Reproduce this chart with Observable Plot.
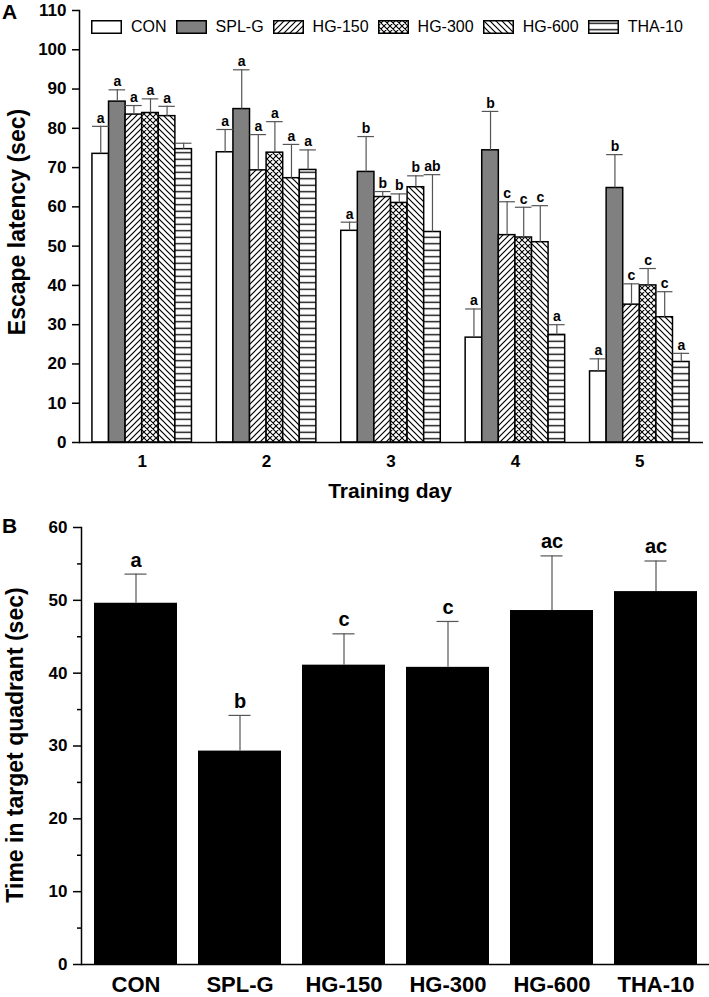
<!DOCTYPE html>
<html>
<head>
<meta charset="utf-8">
<script src="https://cdn.jsdelivr.net/npm/d3@7"></script>
<script src="https://cdn.jsdelivr.net/npm/@observablehq/plot@0.6"></script>
<style>
  body { margin: 0; background: #fff; }
  #wrap { position: relative; width: 709px; height: 997px; overflow: hidden; }
  #panelA { position: absolute; left: 0; top: 0; }
  #panelB { position: absolute; left: 0; top: 505px; }
  .plabel { position: absolute; font: bold 21px "Liberation Sans", Arial, sans-serif; color: #000; }
  .ytitle { position: absolute; font: bold 23px "Liberation Sans", Arial, sans-serif; color: #000;
            white-space: nowrap; transform: translate(-50%, -50%) rotate(-90deg); }
  .xtitle { position: absolute; font: bold 21px "Liberation Sans Narrow", "Liberation Sans", Arial, sans-serif;
            color: #000; white-space: nowrap; transform: translate(-50%, -50%); }
  #legend { position: absolute; left: 91px; top: 18px; display: flex; align-items: center;
            font: 16px "Liberation Sans", Arial, sans-serif; color: #000; }
  #legend .item { display: flex; align-items: center; margin-right: 9px; }
  #legend svg { margin-right: 9px; display: block; }
</style>
</head>
<body>
<svg width="0" height="0" style="position:absolute">
  <defs>
    <pattern id="p150" patternUnits="userSpaceOnUse" width="6" height="6">
      <rect width="6" height="6" fill="#fff"/>
      <path d="M-1,1 L1,-1 M0,6 L6,0 M5,7 L7,5" stroke="#000" stroke-width="1.2"/>
    </pattern>
    <pattern id="p300" patternUnits="userSpaceOnUse" width="6" height="6">
      <rect width="6" height="6" fill="#fff"/>
      <path d="M-1,1 L1,-1 M0,6 L6,0 M5,7 L7,5 M-1,5 L1,7 M0,0 L6,6 M5,-1 L7,1" stroke="#000" stroke-width="1.1"/>
    </pattern>
    <pattern id="p600" patternUnits="userSpaceOnUse" width="6" height="6">
      <rect width="6" height="6" fill="#fff"/>
      <path d="M-1,5 L1,7 M0,0 L6,6 M5,-1 L7,1" stroke="#000" stroke-width="1.2"/>
    </pattern>
    <pattern id="ptha" patternUnits="userSpaceOnUse" width="6" height="6.5">
      <rect width="6" height="6.5" fill="#fff"/>
      <path d="M0,3.25 H6" stroke="#000" stroke-width="1.3"/>
    </pattern>
  </defs>
</svg>
<div id="wrap">
  <div id="panelA"></div>
  <div id="panelB"></div>
  <div class="plabel" style="left:2px;top:0px;">A</div>
  <div class="plabel" style="left:2px;top:514px;">B</div>
  <div class="ytitle" style="left:17px;top:222px;">Escape latency (sec)</div>
  <div class="xtitle" style="left:390px;top:491px;">Training day</div>
  <div class="ytitle" style="left:15px;top:745px;">Time in target quadrant (sec)</div>
  <div id="legend"></div>
</div>
<script>
// ---------- Data: panel A (escape latency by training day) ----------
const days = [1, 2, 3, 4, 5];
const groups = ["CON", "SPL-G", "HG-150", "HG-300", "HG-600", "THA-10"];

const conMean   = [73.5, 73.9, 53.9, 26.7, 18.1];
const splMean   = [86.8, 84.9, 68.9, 74.4, 64.8];
const hg150Mean = [83.5, 69.3, 62.5, 52.8, 35.1];
const hg300Mean = [83.9, 73.8, 61.0, 52.2, 40.0];
const hg600Mean = [83.1, 67.3, 65.0, 51.0, 31.9];
const thaMean   = [74.7, 69.4, 53.6, 27.4, 20.5];

const conErr   = [7.0, 5.8, 2.2, 7.3, 3.2];
const splErr   = [3.0, 10.0, 9.0, 9.9, 8.5];
const hg150Err = [2.3, 9.1, 1.4, 8.5, 5.3];
const hg300Err = [3.6, 7.9, 2.3, 7.7, 4.3];
const hg600Err = [2.5, 8.6, 2.9, 9.3, 6.5];
const thaErr   = [1.5, 5.1, 14.6, 2.6, 2.2];

const conLet   = ["a", "a", "a", "a", "a"];
const splLet   = ["a", "a", "b", "b", "b"];
const hg150Let = ["a", "a", "b", "c", "c"];
const hg300Let = ["a", "a", "b", "c", "c"];
const hg600Let = ["a", "a", "b", "c", "c"];
const thaLet   = ["", "a", "ab", "a", "a"];

const yTicksA = [0, 10, 20, 30, 40, 50, 60, 70, 80, 90, 100, 110];

// ---------- Data: panel B (time in target quadrant) ----------
const meanB   = [49.6, 29.3, 41.1, 40.8, 48.6, 51.2];
const errB    = [4.0, 4.9, 4.3, 6.3, 7.5, 4.2];
const letterB = ["a", "b", "c", "c", "ac", "ac"];
const yTicksB = [0, 10, 20, 30, 40, 50, 60];
const yMinorB = [5, 15, 25, 35, 45, 55];

// ---------- Styles ----------
const fills = ["#ffffff", "#808080", "url(#p150)", "url(#p300)", "url(#p600)", "url(#ptha)"];
const tickFont = '"Liberation Sans Narrow", "Liberation Sans", Arial, sans-serif';
const errColor = "#555";

// ---------- Build panel A table ----------
const meansA = [conMean, splMean, hg150Mean, hg300Mean, hg600Mean, thaMean];
const errsA = [conErr, splErr, hg150Err, hg300Err, hg600Err, thaErr];
const letsA = [conLet, splLet, hg150Let, hg300Let, hg600Let, thaLet];
const groupWidth = 0.8;
const barW = groupWidth / groups.length;
const rowsA = [];
groups.forEach((g, gi) => {
  days.forEach((d, di) => {
    const x1 = d - groupWidth / 2 + gi * barW;
    rowsA.push({
      group: g, gi, day: d,
      x1, x2: x1 + barW, xc: x1 + barW / 2,
      mean: meansA[gi][di],
      top: meansA[gi][di] + errsA[gi][di],
      letter: letsA[gi][di]
    });
  });
});

const barsA = groups.map((g, gi) =>
  Plot.rectY(rowsA.filter(r => r.gi === gi), {
    x1: "x1", x2: "x2", y1: 0, y2: "mean",
    fill: fills[gi], stroke: "#000", strokeWidth: 1.5
  })
);

const plotA = Plot.plot({
  width: 709, height: 505,
  marginTop: 10, marginBottom: 63, marginLeft: 79, marginRight: 6,
  style: { fontFamily: tickFont, fontSize: "17px", fontWeight: "bold", color: "#000", background: "transparent" },
  x: { domain: [0.496, 5.512] },
  y: { domain: [0, 110] },
  marks: [
    ...barsA,
    Plot.ruleX(rowsA, { x: "xc", y1: "mean", y2: "top", stroke: errColor, strokeWidth: 1.2 }),
    Plot.ruleY(rowsA, { y: "top", x1: "x1", x2: "x2", stroke: errColor, strokeWidth: 1.2 }),
    Plot.text(rowsA, { x: "xc", y: "top", text: "letter", dy: -8, fontSize: 14, fontWeight: "bold",
                       fontFamily: '"Liberation Sans", Arial, sans-serif', fill: "#000" }),
    Plot.axisY(yTicksA, { tickSize: 7, tickPadding: 6, label: null, strokeWidth: 1.5 }),
    Plot.axisX(days, { tickSize: 0, tickPadding: 12, label: null, tickFormat: d => String(d) }),
    Plot.frame({ anchor: "left", strokeWidth: 1.5 }),
    Plot.ruleY([0], { strokeWidth: 1.5 })
  ]
});
document.getElementById("panelA").appendChild(plotA);

// ---------- Panel B ----------
const rowsB = groups.map((g, i) => ({ group: g, mean: meanB[i], top: meanB[i] + errB[i], letter: letterB[i] }));

const plotB = Plot.plot({
  width: 709, height: 492,
  marginTop: 22, marginBottom: 33, marginLeft: 81, marginRight: 0,
  style: { fontFamily: tickFont, fontSize: "17px", fontWeight: "bold", color: "#000", background: "transparent" },
  x: { domain: groups, paddingInner: 0.206, paddingOuter: 0.11 },
  y: { domain: [0, 60] },
  marks: [
    Plot.barY(rowsB, { x: "group", y: "mean", fill: "#000" }),
    Plot.ruleX(rowsB, { x: "group", y1: "mean", y2: "top", stroke: errColor, strokeWidth: 1.2 }),
    Plot.tickY(rowsB, { x: "group", y: "top", stroke: errColor, strokeWidth: 1.2, insetLeft: 30.5, insetRight: 30.5 }),
    Plot.text(rowsB, { x: "group", y: "top", text: "letter", dy: -14, fontSize: 20, fontWeight: "bold",
                       fontFamily: tickFont, fill: "#000" }),
    Plot.axisY(yTicksB, { tickSize: 8, tickPadding: 6, label: null, strokeWidth: 1.5 }),
    Plot.axisY(yMinorB, { tickSize: 4, text: null, label: null, strokeWidth: 1.5 }),
    Plot.axisX(groups, { tickSize: 0, tickPadding: 12, label: null, fontSize: 22 }),
    Plot.frame({ anchor: "left", strokeWidth: 1.5 }),
    Plot.ruleY([0], { strokeWidth: 1.5 })
  ]
});
document.getElementById("panelB").appendChild(plotB);

// ---------- Legend (HTML) ----------
const legend = document.getElementById("legend");
groups.forEach((g, gi) => {
  const item = document.createElement("div");
  item.className = "item";
  item.innerHTML = `<svg width="31" height="14"><rect x="0.75" y="0.75" width="29.5" height="12.5" fill="${fills[gi]}" stroke="#000" stroke-width="1.5"/></svg><span>${g}</span>`;
  legend.appendChild(item);
});
</script>
</body>
</html>
